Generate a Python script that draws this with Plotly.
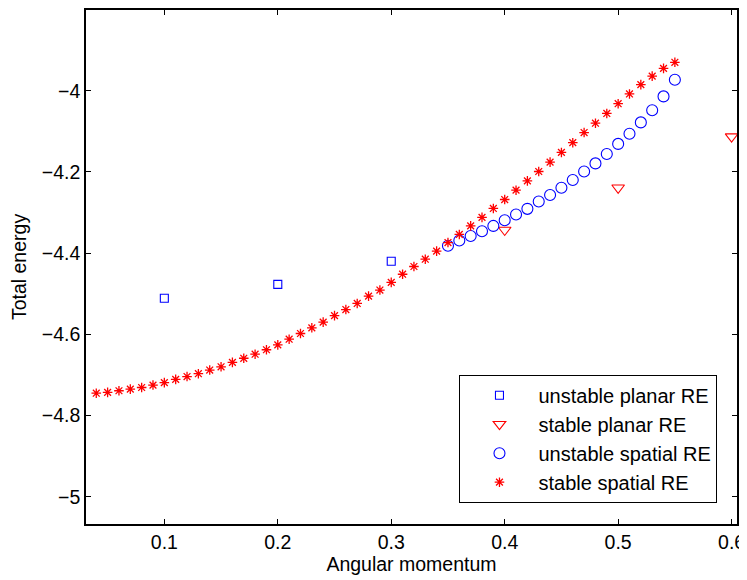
import plotly.graph_objects as go

# unstable planar RE
up_x = [0.1, 0.2, 0.3]
up_y = [-4.511, -4.477, -4.420]

# stable planar RE
sp_x = [0.4, 0.5, 0.6]
sp_y = [-4.343, -4.239, -4.113]

# unstable spatial RE
us_x = [0.35, 0.36, 0.37, 0.38, 0.39, 0.40, 0.41, 0.42, 0.43, 0.44, 0.45,
        0.46, 0.47, 0.48, 0.49, 0.50, 0.51, 0.52, 0.53, 0.54, 0.55]
us_y = [-4.382, -4.369, -4.358, -4.346, -4.333, -4.319, -4.305, -4.291, -4.273, -4.257, -4.239,
        -4.220, -4.199, -4.179, -4.156, -4.131, -4.106, -4.078, -4.048, -4.014, -3.973]

# stable spatial RE
ss_x = [0.04, 0.05, 0.06, 0.07, 0.08, 0.09, 0.10, 0.11, 0.12, 0.13, 0.14, 0.15, 0.16,
        0.17, 0.18, 0.19, 0.20, 0.21, 0.22, 0.23, 0.24, 0.25, 0.26, 0.27, 0.28, 0.29,
        0.30, 0.31, 0.32, 0.33, 0.34, 0.35, 0.36, 0.37, 0.38, 0.39, 0.40, 0.41, 0.42,
        0.43, 0.44, 0.45, 0.46, 0.47, 0.48, 0.49, 0.50, 0.51, 0.52, 0.53, 0.54, 0.55]
ss_y = [-4.745, -4.743, -4.739, -4.735, -4.731, -4.725, -4.719, -4.711, -4.704, -4.697,
        -4.688, -4.680, -4.669, -4.659, -4.649, -4.638, -4.626, -4.612, -4.598, -4.584,
        -4.570, -4.554, -4.539, -4.524, -4.506, -4.491, -4.472, -4.452, -4.433, -4.415,
        -4.395, -4.374, -4.354, -4.333, -4.312, -4.290, -4.268, -4.245, -4.222, -4.199,
        -4.176, -4.152, -4.128, -4.103, -4.080, -4.056, -4.032, -4.008, -3.985, -3.964,
        -3.945, -3.930]

x_ticks = [0.1, 0.2, 0.3, 0.4, 0.5, 0.6]
x_tick_labels = ["0.1", "0.2", "0.3", "0.4", "0.5", "0.6"]
y_ticks = [-5, -4.8, -4.6, -4.4, -4.2, -4]
y_tick_labels = ["\u22125", "\u22124.8", "\u22124.6", "\u22124.4", "\u22124.2", "\u22124"]

BLUE = "#0000ff"
RED = "#ff0000"
FONT = "Liberation Sans, Arial, Helvetica, sans-serif"
FS = 19.5
FS_LEG = 20

fig = go.Figure()
fig.add_trace(go.Scatter(x=up_x, y=up_y, mode="markers", name="unstable planar RE",
                         legendgroup="a",
                         marker=dict(symbol="square-open", size=8, color=BLUE, line=dict(width=1.1, color=BLUE))))
fig.add_trace(go.Scatter(x=sp_x, y=sp_y, mode="markers", name="stable planar RE",
                         legendgroup="b",
                         marker=dict(symbol="triangle-down-open", size=11, color=RED, line=dict(width=1.1, color=RED))))
fig.add_trace(go.Scatter(x=us_x, y=us_y, mode="markers", name="unstable spatial RE",
                         legendgroup="c",
                         marker=dict(symbol="circle-open", size=11, color=BLUE, line=dict(width=1.1, color=BLUE))))
fig.add_trace(go.Scatter(x=ss_x, y=ss_y, mode="markers", name="stable spatial RE",
                         legendgroup="d",
                         marker=dict(symbol="asterisk-open", size=8, color=RED, line=dict(width=1.3, color=RED))))

axis_common = dict(
    showline=True, linecolor="black", linewidth=1.5, mirror="ticks",
    ticks="inside", ticklen=5, tickwidth=1, tickcolor="black",
    showgrid=False, zeroline=False, automargin=False,
    tickfont=dict(family=FONT, size=FS, color="black"),
)

# The page body has an 8px margin, so the figure is sized to fit the 747x580 window.
fig.update_layout(
    width=739, height=572,
    margin=dict(l=78, r=10.3, t=2, b=56, autoexpand=False),
    paper_bgcolor="white", plot_bgcolor="white",
    font=dict(family=FONT, size=FS, color="black"),
    xaxis=dict(range=[0.03095, 0.60476], tickvals=x_ticks, ticktext=x_tick_labels,
               title=dict(text="Angular momentum", font=dict(family=FONT, size=FS, color="black"), standoff=4),
               **axis_common),
    yaxis=dict(range=[-5.0672, -3.8012], tickvals=y_ticks, ticktext=y_tick_labels,
               title=dict(text="Total energy", font=dict(family=FONT, size=FS, color="black"), standoff=10),
               **axis_common),
    legend=dict(x=0.5737, y=0.2905, xanchor="left", yanchor="top",
                bgcolor="white", bordercolor="black", borderwidth=1,
                font=dict(family=FONT, size=FS_LEG, color="black"),
                itemwidth=68, tracegroupgap=0, traceorder="normal"),
    showlegend=True,
)

fig.write_html("out.html")
